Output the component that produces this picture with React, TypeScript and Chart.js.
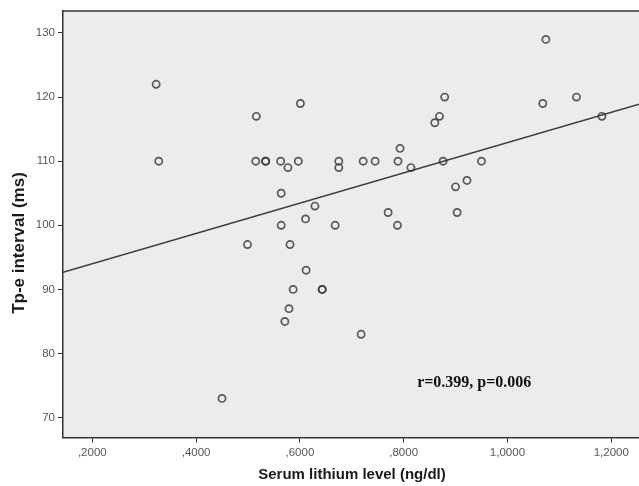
import React, { useEffect, useRef } from "react";
import { Chart, registerables } from "chart.js";

Chart.register(...registerables);

// Serum lithium level (ng/dl)
const LITHIUM = [
  0.323, 0.328, 0.45, 0.499, 0.515, 0.516, 0.534, 0.534, 0.563, 0.564, 0.564, 0.571,
  0.577, 0.579, 0.581, 0.587, 0.597, 0.601, 0.611, 0.612, 0.629, 0.643, 0.643, 0.668,
  0.675, 0.675, 0.718, 0.722, 0.745, 0.77, 0.788, 0.789, 0.793, 0.814, 0.86, 0.869,
  0.876, 0.879, 0.9, 0.903, 0.922, 0.95, 1.068, 1.074, 1.133, 1.182,
];
// Tp-e interval (ms)
const TPE = [
  122, 110, 73, 97, 110, 117, 110, 110, 110, 105, 100, 85,
  109, 87, 97, 90, 110, 119, 101, 93, 103, 90, 90, 100,
  110, 109, 83, 110, 110, 102, 100, 110, 112, 109, 116, 117,
  110, 120, 106, 102, 107, 110, 119, 129, 120, 117,
];

const X_TICKS = [0.2, 0.4, 0.6, 0.8, 1.0, 1.2];
const Y_TICKS = [70, 80, 90, 100, 110, 120, 130];
const X_MIN = 0.1435;
const X_MAX = 1.2535;
const Y_MIN = 66.9;
const Y_MAX = 133.43;

// fitted regression line
const REG_INTERCEPT = 89.3;
const REG_SLOPE = 23.6;

const X_TITLE = "Serum lithium level (ng/dl)";
const Y_TITLE = "Tp-e interval (ms)";
const ANNOTATION = "r=0.399, p=0.006";
const ANNOTATION_X = 0.936;
const ANNOTATION_Y = 75.4;

const fmtX = (v: number) => {
  const s = v.toFixed(4).replace(".", ",");
  return s.startsWith("0") ? s.slice(1) : s;
};

const decor = {
  id: "spssDecor",
  beforeDraw(chart: any) {
    const { ctx, chartArea: a } = chart;
    ctx.save();
    ctx.fillStyle = "#ececec";
    ctx.fillRect(a.left, a.top, a.right - a.left, a.bottom - a.top);
    ctx.restore();
  },
  afterDraw(chart: any) {
    const { ctx, chartArea: a, scales } = chart;
    ctx.save();
    ctx.strokeStyle = "#333";
    ctx.lineWidth = 1.5;
    ctx.beginPath();
    ctx.moveTo(a.left, a.top);
    ctx.lineTo(a.right, a.top);
    ctx.stroke();

    ctx.fillStyle = "#1a1a1a";
    ctx.textAlign = "center";
    ctx.textBaseline = "middle";
    ctx.font = '700 15px "Liberation Sans", Arial, sans-serif';
    ctx.fillText(X_TITLE, 352, 475);

    ctx.save();
    ctx.translate(19, 243);
    ctx.rotate(-Math.PI / 2);
    ctx.font = '700 17px "Liberation Sans", Arial, sans-serif';
    ctx.fillText(Y_TITLE, 0, 0);
    ctx.restore();

    ctx.font = '700 16px "Liberation Serif", "Times New Roman", serif';
    ctx.fillStyle = "#111";
    ctx.fillText(
      ANNOTATION,
      scales.x.getPixelForValue(ANNOTATION_X),
      scales.y.getPixelForValue(ANNOTATION_Y)
    );
    ctx.restore();
  },
};

export default function App() {
  const ref = useRef<HTMLCanvasElement | null>(null);

  useEffect(() => {
    const canvas = ref.current;
    if (!canvas) return;
    const points = LITHIUM.map((x, i) => ({ x, y: TPE[i] }));
    const line = [
      { x: X_MIN, y: REG_INTERCEPT + REG_SLOPE * X_MIN },
      { x: X_MAX, y: REG_INTERCEPT + REG_SLOPE * X_MAX },
    ];
    const chart = new Chart(canvas, {
      type: "scatter",
      data: {
        datasets: [
          {
            type: "line",
            data: line,
            borderColor: "#3c3c3c",
            borderWidth: 1.5,
            pointRadius: 0,
            fill: false,
            order: 2,
          } as any,
          {
            data: points,
            pointRadius: 3.6,
            pointBorderWidth: 1.7,
            pointBorderColor: "rgba(50,50,50,0.8)",
            pointBackgroundColor: "rgba(0,0,0,0)",
            order: 1,
          },
        ],
      },
      options: {
        responsive: false,
        animation: false,
        devicePixelRatio: 1,
        layout: { autoPadding: false, padding: { top: 11, right: 0, left: 0, bottom: 0 } },
        plugins: {
          legend: { display: false },
          tooltip: { enabled: false },
        },
        scales: {
          x: {
            type: "linear",
            min: X_MIN,
            max: X_MAX,
            afterBuildTicks: (s: any) => {
              s.ticks = X_TICKS.map((v) => ({ value: v }));
            },
            afterFit: (s: any) => {
              s.height = 48.5;
              s.paddingLeft = 0;
              s.paddingRight = 0;
            },
            ticks: {
              callback: (v: any) => fmtX(Number(v)),
              color: "#555",
              font: { family: '"Liberation Sans", Arial, sans-serif', size: 11.5 },
              padding: 3,
              maxRotation: 0,
              autoSkip: false,
            },
            grid: {
              display: true,
              drawOnChartArea: false,
              drawTicks: true,
              tickLength: 5,
              color: "#333",
              lineWidth: 1,
            },
            border: { display: true, color: "#333", width: 1.5 },
          },
          y: {
            type: "linear",
            min: Y_MIN,
            max: Y_MAX,
            afterBuildTicks: (s: any) => {
              s.ticks = Y_TICKS.map((v) => ({ value: v }));
            },
            afterFit: (s: any) => {
              s.width = 63;
              s.paddingTop = 0;
              s.paddingBottom = 0;
            },
            ticks: {
              callback: (v: any) => String(v),
              color: "#555",
              font: { family: '"Liberation Sans", Arial, sans-serif', size: 11.5 },
              padding: 3,
              autoSkip: false,
            },
            grid: {
              display: true,
              drawOnChartArea: false,
              drawTicks: true,
              tickLength: 5,
              color: "#333",
              lineWidth: 1,
            },
            border: { display: true, color: "#333", width: 1.5 },
          },
        },
      },
      plugins: [decor],
    });
    return () => chart.destroy();
  }, []);

  return (
    <div style={{ position: "fixed", left: 0, top: 0, width: 639, height: 486, background: "#fff" }}>
      <canvas ref={ref} width={639} height={486} style={{ display: "block" }} />
    </div>
  );
}
